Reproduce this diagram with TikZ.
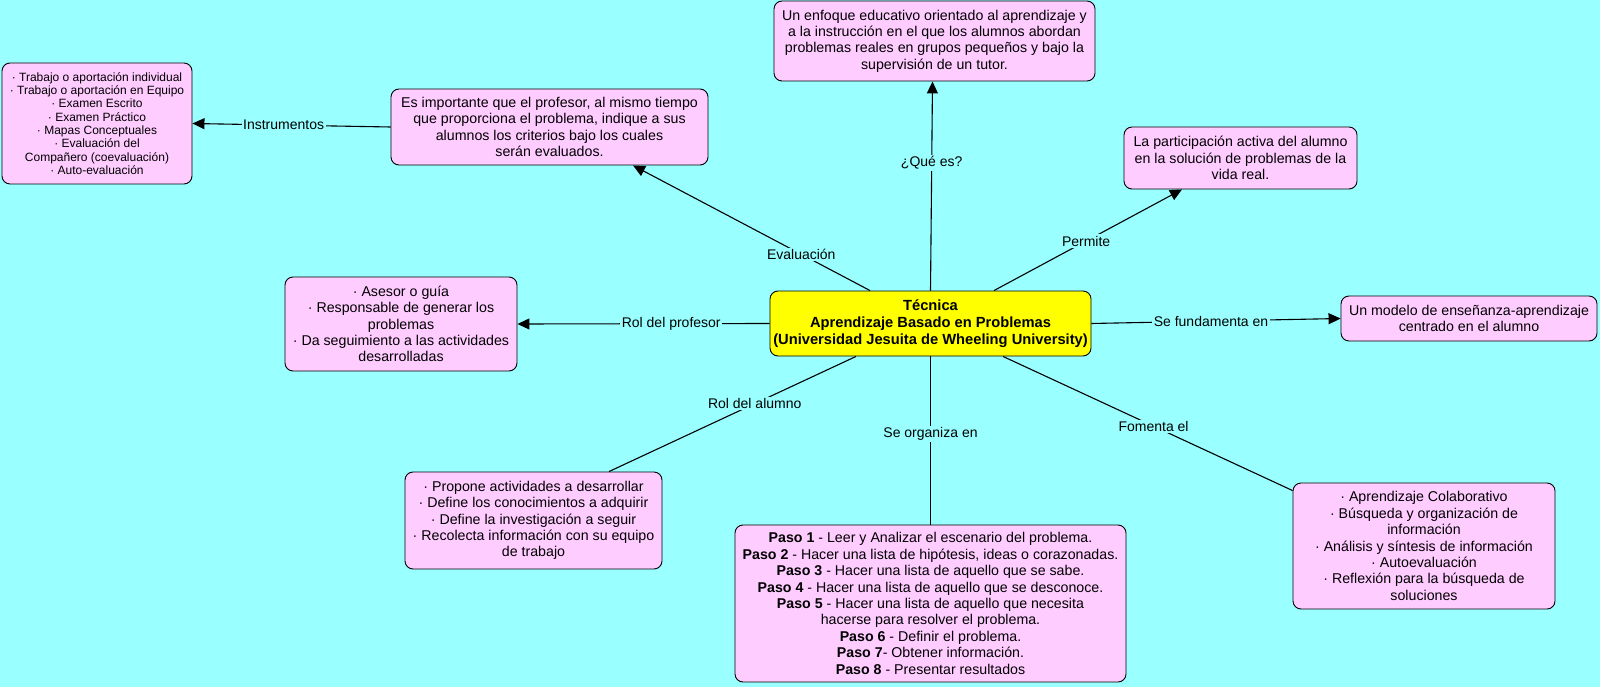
\documentclass[tikz,border=0pt]{standalone}
\usepackage{fontspec}
\setmainfont{Liberation Sans}
\usetikzlibrary{arrows.meta}
\definecolor{bgcyan}{RGB}{153,255,255}
\definecolor{boxpink}{RGB}{255,204,255}
\definecolor{boxyellow}{RGB}{255,255,0}
\tikzset{
  box/.style={draw=black, line width=0.9pt, fill=boxpink, rounded corners=8pt, align=center,
    inner sep=2pt, font=\fontsize{14.2}{16.4}\selectfont},
  smallbox/.style={box, font=\fontsize{12}{13.3}\selectfont},
  mainbox/.style={box, fill=boxyellow, font=\bfseries\fontsize{14.7}{16.8}\selectfont},
  conn/.style={line width=1.1pt, draw=black},
  arr/.style={conn, -{Triangle[length=12pt,width=11pt]}},
  lbl/.style={fill=bgcyan, inner sep=1.5pt, font=\fontsize{14}{16}\selectfont}
}
\begin{document}
\begin{tikzpicture}[x=1pt,y=-1pt]
\useasboundingbox (0,0) rectangle (1600,687);
\fill[bgcyan] (0,0) rectangle (1600,687);

\node[mainbox, minimum width=321pt, minimum height=65pt] (c) at (930.5,323.5)
  {Técnica\\Aprendizaje Basado en Problemas\\(Universidad Jesuita de Wheeling University)};

\node[smallbox, minimum width=190pt, minimum height=121pt] (inst) at (97,123.5)
  {· Trabajo o aportación individual\\· Trabajo o aportación en Equipo\\· Examen Escrito\\· Examen Práctico\\· Mapas Conceptuales\\· Evaluación del\\Compañero (coevaluación)\\· Auto-evaluación};

\node[box, minimum width=317pt, minimum height=76pt] (eval) at (549.5,127)
  {Es importante que el profesor, al mismo tiempo\\que proporciona el problema, indique a sus\\alumnos los criterios bajo los cuales\\serán evaluados.};

\node[box, minimum width=321pt, minimum height=80pt] (que) at (934.5,41)
  {Un enfoque educativo orientado al aprendizaje y\\a la instrucción en el que los alumnos abordan\\problemas reales en grupos pequeños y bajo la\\supervisión de un tutor.};

\node[box, minimum width=233pt, minimum height=62pt] (perm) at (1240.5,158)
  {La participación activa del alumno\\en la solución de problemas de la\\vida real.};

\node[box, minimum width=232pt, minimum height=94pt] (prof) at (401,324)
  {· Asesor o guía\\· Responsable de generar los\\problemas\\· Da seguimiento a las actividades\\desarrolladas};

\node[box, minimum width=256pt, minimum height=45pt] (fund) at (1469,318.5)
  {Un modelo de enseñanza-aprendizaje\\centrado en el alumno};

\node[box, minimum width=257pt, minimum height=97pt] (alum) at (533.5,520.5)
  {· Propone actividades a desarrollar\\· Define los conocimientos a adquirir\\· Define la investigación a seguir\\· Recolecta información con su equipo\\de trabajo};

\node[box, minimum width=391pt, minimum height=157pt] (pasos) at (930.5,603.5)
  {\textbf{Paso 1} - Leer y Analizar el escenario del problema.\\
   \textbf{Paso 2} - Hacer una lista de hipótesis, ideas o corazonadas.\\
   \textbf{Paso 3} - Hacer una lista de aquello que se sabe.\\
   \textbf{Paso 4} - Hacer una lista de aquello que se desconoce.\\
   \textbf{Paso 5} - Hacer una lista de aquello que necesita\\
   hacerse para resolver el problema.\\
   \textbf{Paso 6} - Definir el problema.\\
   \textbf{Paso 7}- Obtener información.\\
   \textbf{Paso 8} - Presentar resultados};

\node[box, minimum width=262pt, minimum height=126pt] (fom) at (1424,546)
  {· Aprendizaje Colaborativo\\· Búsqueda y organización de\\información\\· Análisis y síntesis de información\\· Autoevaluación\\· Reflexión para la búsqueda de\\soluciones};

% connectors
\draw[arr] ([xshift=-60.5pt]c.north) -- node[lbl, pos=0.29] {Evaluación} ([xshift=83.5pt]eval.south);
\draw[arr] (eval.west) -- node[lbl, pos=0.54] {Instrumentos} (inst.east);
\draw[arr] (c.north) -- node[lbl, pos=0.61] {¿Qué es?} ([xshift=-2pt]que.south);
\draw[arr] ([xshift=63.5pt]c.north) -- node[lbl, pos=0.49] {Permite} ([xshift=-58.5pt]perm.south);
\draw[arr] (c.east) -- node[lbl, pos=0.48] {Se fundamenta en} (fund.west);
\draw[arr] (c.west) -- node[lbl, pos=0.39] {Rol del profesor} (prof.east);
\draw[conn] ([xshift=-74.5pt]c.south) -- node[lbl, pos=0.41] {Rol del alumno} ([xshift=75.5pt]alum.north);
\draw[conn] (c.south) -- node[lbl, pos=0.46] {Se organiza en} (pasos.north);
\draw[conn] ([xshift=72.5pt]c.south) -- node[lbl, pos=0.52] {Fomenta el} ([yshift=-8pt]fom.north west);
\end{tikzpicture}
\end{document}
